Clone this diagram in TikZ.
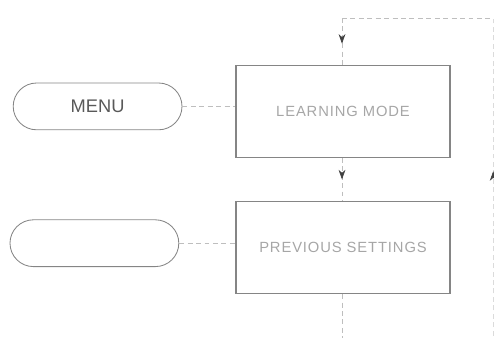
\documentclass[tikz,border=0pt]{standalone}
\usepackage{fontspec}
\setmainfont{Liberation Sans}
\usepackage{tikz}
\usetikzlibrary{arrows.meta,positioning,calc,shapes.misc,decorations.markings}
\definecolor{linegray}{HTML}{858585}
\definecolor{textgray}{HTML}{A6A6A6}
\definecolor{dashgray}{HTML}{BEBEBE}
\tikzset{
  >={Stealth[length=2.4mm,width=1.7mm]},
  % flowchart
  term/.style={rounded rectangle,draw=linegray,line width=0.6pt,
               minimum width=4.22cm,minimum height=1.17cm,inner sep=0pt,
               text=black!65,font=\fontsize{13}{15}\selectfont},
  step box/.style={rectangle,draw=linegray,line width=0.8pt,
               minimum width=5.35cm,minimum height=2.3cm,inner sep=0pt,
               text=textgray,font=\fontsize{10.5}{12}\selectfont\addfontfeature{LetterSpace=6}},
  link/.style={draw=dashgray,line width=0.45pt,dash pattern=on 3.5pt off 2.5pt},
  faintlink/.style={draw=black!14,line width=0.45pt,dash pattern=on 3.5pt off 2.5pt},
  midarrow/.style={postaction={decorate},
               decoration={markings,mark=at position #1 with {\arrow[black!75]{>}}}},
}

\begin{document}
\begin{tikzpicture}
  \useasboundingbox (0,0) rectangle (12.35,-8.425);
  \node[term] (menu) at (2.44,-2.66) {MENU};
  \node[term] (spare) at (2.36,-6.08) {};
  \node[step box] (learn) at (8.575,-2.78) {LEARNING MODE};
  \node[step box] (prev) at (8.575,-6.19) {PREVIOUS SETTINGS};
  \coordinate (top) at (8.55,-0.45);
  \coordinate (corner) at (12.33,-0.45);
  \coordinate (rbot) at (12.33,-8.6);
  \coordinate (bot) at (8.55,-8.6);
  \draw[link] (menu.east) -- (menu.east -| learn.west);
  \draw[link] (spare.east) -- (spare.east -| prev.west);
  \draw[link,midarrow=0.55] (top) -- (top |- learn.north);
  \draw[link,midarrow=0.5] (learn.south -| top) -- (prev.north -| top);
  \draw[link] (prev.south -| top) -- (bot);
  \draw[link] (top) -- (corner);
  \draw[faintlink,midarrow=0.53] (rbot) -- (corner);
\end{tikzpicture}
\end{document}
